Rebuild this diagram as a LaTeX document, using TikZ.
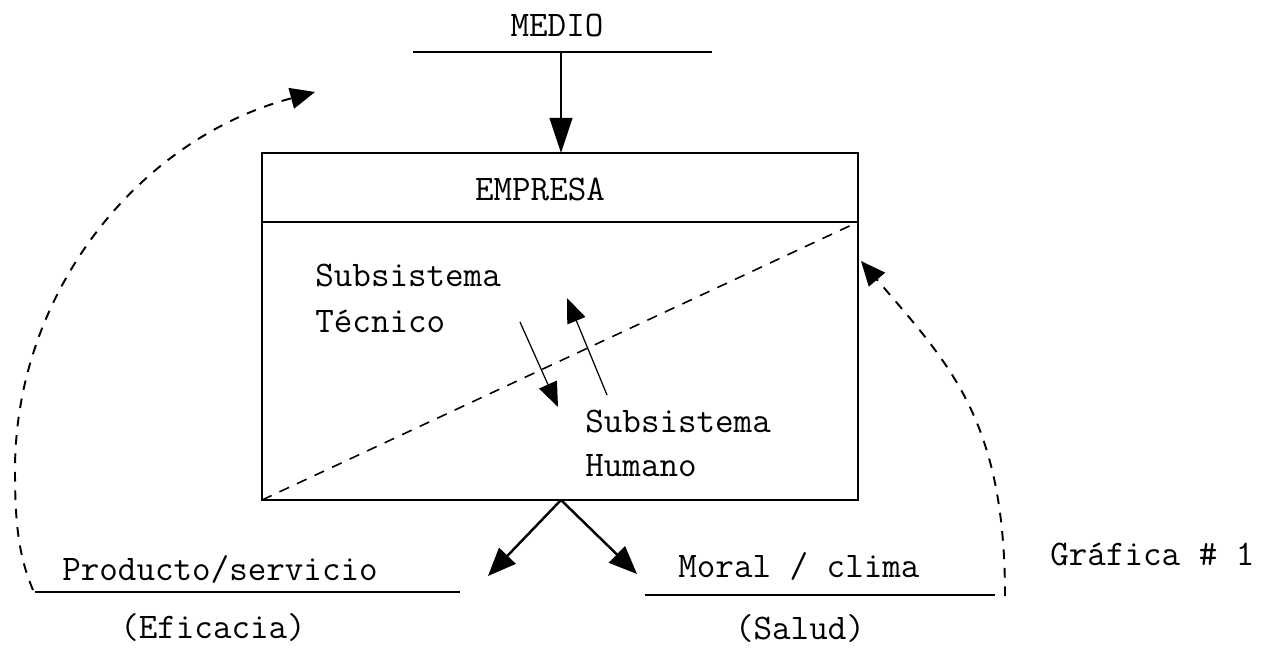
\documentclass[tikz,border=0pt]{standalone}
\usepackage{fontspec}
\setmonofont{Latin Modern Mono}
\usetikzlibrary{arrows.meta}
\begin{document}
\begin{tikzpicture}[x=0.02cm,y=-0.02cm,
  lbl/.style={font=\ttfamily\fontsize{20.5}{24}\selectfont, inner sep=0pt},
  mainline/.style={line width=1.1pt},
  boxline/.style={line width=0.9pt},
  bigarrow/.style={line width=1.1pt,-{Triangle[length=20pt,width=13pt]}},
  outarrow/.style={line width=1.4pt,-{Triangle[length=16pt,width=13pt]}},
  smallarrow/.style={line width=0.7pt,-{Triangle[length=14pt,width=11pt]}},
  dashline/.style={line width=0.9pt,dash pattern=on 6pt off 5pt},
  dcurve/.style={line width=1.1pt,dash pattern=on 5.5pt off 5pt,-{Triangle[length=14pt,width=12pt]}}]
\useasboundingbox (0,0) rectangle (1268,648);

% MEDIO
\node[lbl,anchor=base] (medio) at (557,37) {MEDIO};
\coordinate (mL) at (413,52);
\coordinate (mR) at (712,52);
\coordinate (mA) at (561,52);
\draw[mainline] (mL) -- (mR);

% Box
\coordinate (bNW) at (262,153);
\coordinate (bSE) at (858,500);
\coordinate (bSW) at (262,500);
\coordinate (bTop) at (561,153);
\coordinate (bBot) at (561,500);
\coordinate (dL) at (262,222);
\coordinate (dR) at (858,222);
\draw[boxline] (bNW) rectangle (bSE);
\draw[boxline] (dL) -- (dR);
\draw[bigarrow] (mA) -- (bTop);
\node[lbl,anchor=base] (empresa) at (540,201) {EMPRESA};

% Diagonal
\draw[dashline] (bSW) -- (dR);

% Subsystems
\node[lbl,anchor=base west] (st1) at (315,287) {Subsistema};
\node[lbl,anchor=base west] (st2) at (315,333) {Técnico};
\node[lbl,anchor=base west] (sh1) at (585,433) {Subsistema};
\node[lbl,anchor=base west] (sh2) at (585,477) {Humano};

\coordinate (t1) at (520,322);
\coordinate (t2) at (558,407);
\coordinate (h1) at (607,395);
\coordinate (h2) at (567,298);
\draw[smallarrow] (t1) -- (t2);
\draw[smallarrow] (h1) -- (h2);

% Outputs
\coordinate (pTip) at (488,576);
\coordinate (cTip) at (637,574);
\draw[outarrow] (bBot) -- (pTip);
\draw[outarrow] (bBot) -- (cTip);

\node[lbl,anchor=base west] (prod) at (62,580) {Producto/servicio};
\coordinate (pL) at (35,592);
\coordinate (pR) at (460,592);
\draw[mainline] (pL) -- (pR);
\node[lbl,anchor=base] (efic) at (213,638) {(Eficacia)};

\node[lbl,anchor=base west] (moral) at (678,577) {Moral / clima};
\coordinate (cL) at (645,595);
\coordinate (cR) at (995,595);
\draw[mainline] (cL) -- (cR);
\node[lbl,anchor=base] (salud) at (800,639) {(Salud)};

\node[lbl,anchor=base west] (graf) at (1050,565) {Gráfica \# 1};

% Feedback curves
\coordinate (lStart) at (33,590);
\coordinate (lMid) at (15,470);
\coordinate (lTip) at (315,92);
\draw[dcurve] (lStart) .. controls (18,555) and (15,520) .. (lMid)
  .. controls (15,293) and (138,139) .. (lTip);
\coordinate (rStart) at (1005,596);
\coordinate (rTip) at (861,261);
\draw[dcurve] (rStart) .. controls (1005,420) and (950,365) .. (rTip);
\end{tikzpicture}
\end{document}
